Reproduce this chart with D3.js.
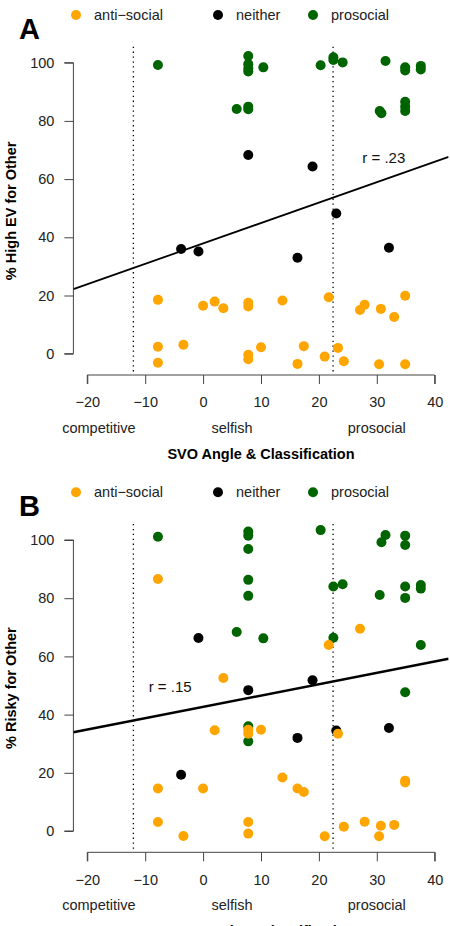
<!DOCTYPE html>
<html>
<head>
<script src="https://cdn.jsdelivr.net/npm/d3@7"></script>
<style>
body {
  margin: 0;
  background: #fff;
}
text {
  font-family: 'Liberation Sans', Arial, sans-serif;
}
</style>
</head>
<body>
<svg id="chart"></svg>
<script>
// SVO angle ticks and class labels
const xTicks = [-20, -10, 0, 10, 20, 30, 40];
const yTicks = [0, 20, 40, 60, 80, 100];
const classNames = ['competitive', 'selfish', 'prosocial'];
const classPos = [-18, 5, 30];
const boundaries = [-12.04, 22.45];
const groups = ['anti\u2212social', 'neither', 'prosocial'];
const groupColors = ['#FFA500', '#000000', '#006400'];

// panel A: % high EV for other, [svo angle, percent]
const evAnti = [[-7.8, 18.5], [-7.8, 2.4], [-7.8, -3.1], [-3.4, 3.1], [0.0, 16.5], [2.0, 17.9], [3.5, 15.6],
  [7.8, 17.5], [7.8, 16.2], [7.8, -0.4], [7.8, -1.9], [10.0, 2.2], [13.7, 18.3], [16.3, -3.5], [17.4, 2.6],
  [21.0, -1.0], [21.7, 19.4], [23.3, 2.0], [24.3, -2.6], [27.1, 15.0], [27.9, 16.8], [30.7, 15.4],
  [33.0, 12.6], [34.9, 19.9], [30.4, -3.6], [34.9, -3.6]];
const evNeither = [[7.8, 68.3], [18.9, 64.3], [-3.8, 36.0], [-0.8, 35.1], [16.3, 33.0], [23.0, 48.2], [32.1, 36.4]];
const evPro = [[-7.8, 99.2], [7.8, 102.3], [7.8, 99.5], [7.8, 98.0], [7.8, 97.0], [10.4, 98.4], [5.8, 84.1],
  [7.8, 84.9], [7.8, 84.0], [20.3, 99.1], [22.5, 101.9], [22.5, 100.9], [24.1, 100.1], [31.5, 100.6],
  [34.9, 98.4], [34.9, 97.3], [37.6, 98.9], [37.6, 97.7], [30.5, 83.4], [30.8, 82.6], [34.9, 86.6],
  [34.9, 84.9], [34.9, 83.4]];

// panel B: % risky for other
const riskAnti = [[-7.8, 86.6], [21.7, 63.9], [27.1, 69.5], [3.5, 52.6], [2.0, 34.6], [7.8, 34.8], [7.8, 33.4],
  [10.0, 34.8], [23.3, 33.4], [-7.8, 14.6], [0.0, 14.6], [13.7, 18.4], [16.3, 14.6], [17.4, 13.4],
  [34.9, 17.3], [34.9, 16.7], [-7.8, 3.1], [-3.4, -1.7], [7.8, 3.1], [7.8, -0.9], [21.0, -1.8],
  [24.3, 1.5], [27.9, 3.2], [30.7, 1.8], [30.4, -1.8], [33.0, 2.1]];
const riskNeither = [[-0.8, 66.3], [7.8, 48.4], [18.9, 51.8], [16.3, 32.0], [23.0, 34.5], [32.1, 35.4], [-3.8, 19.3]];
const riskPro = [[-7.8, 101.1], [7.8, 102.9], [7.8, 101.5], [7.8, 96.9], [7.8, 86.3], [7.8, 80.8], [5.8, 68.4],
  [10.4, 66.2], [20.3, 103.4], [22.5, 84.0], [24.1, 84.8], [22.5, 66.4], [31.5, 101.7], [30.8, 99.2],
  [34.9, 101.5], [34.9, 98.3], [30.5, 81.1], [34.9, 84.0], [34.9, 80.1], [37.6, 84.5], [37.6, 83.3],
  [37.6, 63.9], [34.9, 47.7], [7.8, 36.0], [7.8, 30.8]];

// regression fits: [intercept, slope] and r labels
const fitA = [37.9, 0.702];
const fitB = [42.64, 0.39];
const rLabels = ['r = .23', 'r = .15'];
const rLabelPos = [[27.5, 67.2], [-9.4, 49.5]];

const W = 450, H = 926;
const svg = d3.select('#chart').attr('width', W).attr('height', H);

const x = d3.scaleLinear().domain([-22.4, 42.4]).range([73.4, 448.6]);

function panel(top, letter, yTitle, series, fit, rLabel, rPos, lineWidth) {
  const g = svg.append('g').attr('transform', `translate(0,${top})`);
  const y = d3.scaleLinear().domain([0, 100]).range([353.7, 62.7]);
  const plotTop = 46.7, plotBottom = 375;

  const clipId = 'clip' + letter;
  g.append('clipPath').attr('id', clipId)
    .append('rect')
    .attr('x', x.range()[0]).attr('y', plotTop)
    .attr('width', x.range()[1] - x.range()[0]).attr('height', plotBottom - plotTop);

  // legend
  const lx = [76, 218, 313];
  groups.forEach((name, i) => {
    g.append('circle').attr('cx', lx[i]).attr('cy', 15).attr('r', 5).attr('fill', groupColors[i]);
    g.append('text').attr('x', lx[i] + 18).attr('y', 20)
      .attr('font-size', 14.5).attr('fill', '#222').text(name);
  });

  g.append('text').attr('x', 19).attr('y', 39)
    .attr('font-size', 29).attr('font-weight', 'bold').text(letter);

  // class boundaries
  boundaries.forEach(b => {
    g.append('line')
      .attr('x1', x(b)).attr('x2', x(b))
      .attr('y1', plotTop).attr('y2', plotBottom)
      .attr('stroke', '#000').attr('stroke-width', 1.3)
      .attr('stroke-dasharray', '1.3,3.6');
  });

  // y axis
  const yAxis = d3.axisLeft(y).tickValues(yTicks).tickSize(9).tickPadding(10);
  const ya = g.append('g').attr('transform', `translate(${x.range()[0]},0)`).call(yAxis);
  ya.select('.domain').attr('d', `M-9,${y(0)}H0V${y(100)}H-9`).attr('stroke', '#444');
  ya.selectAll('.tick line').attr('stroke', '#444');
  ya.selectAll('.tick text').attr('font-size', 14.5).attr('fill', '#222')
    .attr('font-family', "'Liberation Sans', Arial, sans-serif");

  // x axis
  const xAxis = d3.axisBottom(x).tickValues(xTicks).tickSize(9).tickPadding(13)
    .tickFormat(d => d < 0 ? '\u2212' + Math.abs(d) : d);
  const xa = g.append('g').attr('transform', `translate(0,${plotBottom})`).call(xAxis);
  xa.select('.domain').attr('d', `M${x(-20)},9V0H${x(40)}V9`).attr('stroke', '#444');
  xa.selectAll('.tick line').attr('stroke', '#444');
  xa.selectAll('.tick text').attr('font-size', 14.5).attr('fill', '#222')
    .attr('font-family', "'Liberation Sans', Arial, sans-serif");

  classNames.forEach((c, i) => {
    g.append('text').attr('x', x(classPos[i])).attr('y', 433)
      .attr('text-anchor', 'middle').attr('font-size', 14.5).attr('fill', '#222').text(c);
  });

  g.append('text').attr('x', (x.range()[0] + x.range()[1]) / 2).attr('y', 459)
    .attr('text-anchor', 'middle').attr('font-size', 14.5).attr('font-weight', 'bold')
    .text('SVO Angle & Classification');

  g.append('text')
    .attr('transform', `translate(16,${(plotTop + plotBottom) / 2}) rotate(-90)`)
    .attr('text-anchor', 'middle').attr('font-size', 14.5).attr('font-weight', 'bold')
    .text(yTitle);

  // regression line
  const xd = x.domain();
  g.append('line')
    .attr('clip-path', `url(#${clipId})`)
    .attr('x1', x(xd[0])).attr('y1', y(fit[0] + fit[1] * xd[0]))
    .attr('x2', x(xd[1])).attr('y2', y(fit[0] + fit[1] * xd[1]))
    .attr('stroke', '#000').attr('stroke-width', lineWidth);

  g.append('text').attr('x', x(rPos[0])).attr('y', y(rPos[1]) + 5)
    .attr('font-size', 15).attr('fill', '#111').text(rLabel);

  // points: prosocial, neither, anti-social
  [2, 1, 0].forEach(i => {
    g.append('g').selectAll('circle')
      .data(series[i])
      .enter()
      .append('circle')
      .attr('cx', d => x(d[0]))
      .attr('cy', d => y(d[1]))
      .attr('r', 5)
      .attr('fill', groupColors[i]);
  });
}

panel(0, 'A', '% High EV for Other', [evAnti, evNeither, evPro], fitA, rLabels[0], rLabelPos[0], 1.8);
panel(477.3, 'B', '% Risky for Other', [riskAnti, riskNeither, riskPro], fitB, rLabels[1], rLabelPos[1], 2.5);
</script>
</body>
</html>
